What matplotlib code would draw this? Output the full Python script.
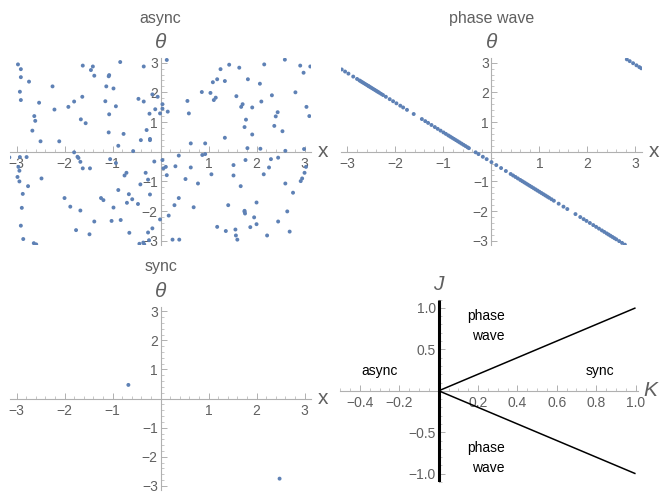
import numpy as np
import matplotlib
matplotlib.use("Agg")
import matplotlib.pyplot as plt
from matplotlib.ticker import FixedLocator, MultipleLocator

plt.rcParams['font.family'] = ['Liberation Sans', 'DejaVu Sans']

PI = np.pi
BLUE = '#5e81b5'
AXCOL = '#b0b0b0'
TXTCOL = '#606060'

# async state: (x, theta)
async_x = [-2.97, -2.91, -2.91, -2.93, -2.91, -2.74, -2.53, -2.63, -2.61, -2.67, -2.50, -2.25, -2.21,
           -2.11, -1.92, -1.80, -1.62, -1.41, -1.45, -1.38, -1.63, -1.66, -1.56, -1.13, -1.07, -1.08,
           -1.15, -1.07, -0.98, -0.93, -1.08, -0.84, -0.77, -0.88, -0.57, -0.46, -0.35, -0.35, -0.23,
           -0.11, -0.06, -0.17, -0.29, -0.41, -0.22, -0.22, 0.13, 0.04, 0.04, -0.01, 0.15,
           0.56, 0.59, 0.63, 0.86, 0.93, 1.04, 1.09, 1.11, 1.15, 1.18, 1.25, 1.34, 1.43, 1.34, 1.58,
           1.64, 1.68, 1.71, 1.75, 1.78, 1.81, 1.82, 1.91, 1.91, 2.07, 2.10, 2.08, 2.16, 2.32, 2.37,
           2.40, 2.44, 2.54, 2.59, 2.60, 2.81, 2.91, 2.98, 3.04, 3.10, 3.12, 2.99,
           -3.15, -2.98, -2.94, -2.87, -2.89, -2.91, -2.86, -2.64, -2.59, -2.76, -2.48, -2.94, -2.96,
           -2.79, -2.93, -2.00, -1.88, -1.67, -1.76, -1.48, -1.38, -1.80, -1.73, -1.71, -1.67, -1.62,
           -1.47, -1.05, -0.93, -1.24, -1.19, -0.98, -1.02, -0.88, -0.83, -0.75, -0.71, -0.70, -0.66,
           -0.59, -0.47, -0.65, -0.44, -0.36, -0.34, -0.24, -0.26, -0.17, -0.42, -0.26, -0.22, -0.31,
           -0.13, -0.01, 0.04, 0.06, 0.11, 0.13, 0.17, 0.25, 0.39, 0.29, 0.38, 0.31, 0.38, 0.52, 0.63,
           0.78, 0.69, 0.87, 0.93, 1.06, 1.18, 1.41, 1.36, 1.52, 1.52, 1.56, 1.57, 1.60, 1.67, 1.77,
           1.75, 1.76, 1.75, 1.95, 2.00, 2.00, 1.87, 2.15, 2.22, 2.26, 2.30, 2.45, 2.45, 2.60, 2.64,
           2.69, 2.76, 2.92, 2.95, 3.00, 3.03]
async_th = [2.94, 2.78, 2.51, 2.02, 1.74, 2.36, 1.65, 1.20, 1.04, 0.71, 0.35, 2.20, 1.42,
            0.35, 1.51, 1.69, 2.90, 2.87, 2.75, 2.56, 1.85, 1.09, 0.96, 2.20, 2.58, 2.54,
            1.70, 1.26, 2.13, 1.53, 0.65, 3.02, 0.60, 0.20, 0.02, 1.78, 2.87, 1.69, 1.28,
            1.43, 1.85, 1.93, 0.73, 0.39, 0.43, 0.39, 3.09, 1.60, 1.45, 1.29, 1.35,
            1.71, 1.29, 0.28, 2.01, 0.28, 1.98, 2.34, 1.74, 1.82, 2.44, 2.78, 2.38, 2.93, 0.47, 1.87,
            2.83, 1.51, 1.60, 0.83, 1.08, 0.12, 2.44, 1.49, 0.58, 2.29, 1.69, 0.10, 2.94, 1.90, 0.87,
            1.19, 1.33, 0.69, 3.10, 0.03, 2.00, 2.90, 2.66, 1.51, 1.20, 2.87, 0.09,
            -0.19, -0.85, -1.00, -1.42, -1.89, -2.49, -2.94, -3.08, -3.12, -1.16, -0.90, -0.64, -0.51,
            -0.18, -0.18, -1.56, -1.85, -1.98, -2.64, -2.78, -2.35, -0.02, -0.17, -0.21, -0.34, -0.56,
            -0.56, -0.25, -0.38, -1.56, -1.63, -1.88, -2.33, -1.29, -2.30, -0.80, -0.71, -1.72, -1.43,
            -1.60, -1.76, -2.73, -3.10, -3.06, -3.12, -2.98, -2.72, -2.58, -1.10, -0.94, -1.44, -0.71,
            -0.33, -2.28, -0.28, -0.56, -0.51, -0.79, -2.15, -2.96, -2.96, -1.80, -1.56, -0.49, -0.13,
            -0.92, -0.53, -1.07, -1.87, -0.11, -0.08, -0.76, -2.53, -1.80, -2.67, -0.45, -0.80, -2.62,
            -2.82, -2.96, -1.16, -0.28, -1.99, -2.08, -2.02, -2.21, -1.71, -2.44, -2.54, -0.76, -2.82,
            -0.53, -0.25, -2.35, -0.20, -1.07, -2.01, -2.69, -1.38, -0.99, -0.90, -0.71, -0.51]

# phase wave state
wave_x = [-3.12, -3.05, -2.98, -2.88, -2.80, -2.75, -2.72, -2.69, -2.66, -2.63, -2.60, -2.57, -2.55,
          -2.52, -2.49, -2.46, -2.43, -2.40, -2.37, -2.34, -2.30, -2.26, -2.20, -2.12, -2.05, -1.98,
          -1.90, -1.84, -1.76, -1.62, -1.45, -1.38, -1.32, -1.25, -1.18, -1.12, -1.06, -1.00, -0.95,
          -0.90, -0.86, -0.82, -0.78, -0.74, -0.70, -0.66, -0.62, -0.58, -0.54, -0.50, -0.47, -0.33,
          -0.27, -0.18, -0.10, 0.00, 0.10, 0.20, 0.30, 0.40, 0.45, 0.50, 0.55, 0.60, 0.64, 0.68,
          0.72, 0.76, 0.80, 0.84, 0.88, 0.92, 0.96, 1.00, 1.04, 1.08, 1.12, 1.16, 1.20, 1.25, 1.30,
          1.40, 1.50, 1.58, 1.75, 1.85, 1.92, 1.98, 2.05, 2.12, 2.18, 2.24, 2.30, 2.35, 2.40, 2.44,
          2.48, 2.52, 2.56, 2.60, 2.66, 2.72, 2.78, 2.82, 2.88, 2.95, 3.02, 3.08, 3.12]
wave_th = [2.77, 2.70, 2.63, 2.53, 2.45, 2.40, 2.37, 2.34, 2.31, 2.28, 2.25, 2.22, 2.20,
           2.17, 2.14, 2.11, 2.08, 2.05, 2.02, 1.99, 1.95, 1.91, 1.85, 1.77, 1.70, 1.63,
           1.55, 1.49, 1.41, 1.27, 1.10, 1.03, 0.97, 0.90, 0.83, 0.77, 0.71, 0.65, 0.60,
           0.55, 0.51, 0.47, 0.43, 0.39, 0.35, 0.31, 0.27, 0.23, 0.19, 0.15, 0.12, -0.02,
           -0.08, -0.17, -0.25, -0.35, -0.45, -0.55, -0.65, -0.75, -0.80, -0.85, -0.90, -0.95, -0.99, -1.03,
           -1.07, -1.11, -1.15, -1.19, -1.23, -1.27, -1.31, -1.35, -1.39, -1.43, -1.47, -1.51, -1.55, -1.60, -1.65,
           -1.75, -1.85, -1.93, -2.10, -2.20, -2.27, -2.33, -2.40, -2.47, -2.53, -2.59, -2.65, -2.70, -2.75, -2.79,
           -2.83, -2.87, -2.91, -2.95, -3.01, -3.07, -3.13, 3.11, 3.05, 2.98, 2.91, 2.85, 2.81]

# sync state
sync_x = [-0.67, 2.48]
sync_th = [0.47, -2.75]

# phase diagram boundaries
bound_K = [[0, 0], [0, 1.0], [0, 1.0]]
bound_J = [[-1.1, 1.1], [0, 1.0], [0, -1.0]]
regions = [("async", -0.30, 0.24), ("sync", 0.82, 0.24),
           ("phase\nwave", 0.24, 0.78), ("phase\nwave", 0.24, -0.81)]

fig = plt.figure(figsize=(6.62, 4.93), dpi=100)


def style_axes(ax, xlim, ylim, xmaj, xmin, ymaj, ymin, xfmt, yfmt):
    ax.set_xlim(*xlim)
    ax.set_ylim(*ylim)
    for s in ['top', 'right']:
        ax.spines[s].set_visible(False)
    for s in ['left', 'bottom']:
        ax.spines[s].set_position(('data', 0))
        ax.spines[s].set_color(AXCOL)
        ax.spines[s].set_linewidth(0.8)
    ax.xaxis.set_major_locator(FixedLocator(xmaj))
    ax.yaxis.set_major_locator(FixedLocator(ymaj))
    ax.xaxis.set_minor_locator(MultipleLocator(xmin))
    ax.yaxis.set_minor_locator(MultipleLocator(ymin))
    ax.set_xticklabels([xfmt.format(v).replace('-', '\u2212') for v in xmaj])
    ax.set_yticklabels([yfmt.format(v).replace('-', '\u2212') for v in ymaj])
    ax.tick_params(which='major', direction='in', length=4, width=0.7, color=AXCOL,
                   labelsize=10, labelcolor=TXTCOL)
    ax.tick_params(which='minor', direction='in', length=2, width=0.5, color=AXCOL)
    ax.tick_params(axis='x', pad=4)
    ax.tick_params(axis='y', pad=2)
    ax.patch.set_visible(False)


def phase_panel(rect, xs, ys, title):
    ax = fig.add_axes(rect)
    ax.scatter(xs, ys, s=8, color=BLUE, edgecolors='none', zorder=3)
    style_axes(ax, (-PI, PI), (-PI, PI), [-3, -2, -1, 1, 2, 3], 0.2,
               [-3, -2, -1, 1, 2, 3], 0.2, '{:d}', '{:d}')
    ax.annotate('θ', xy=(0, PI), xytext=(0, 11.3), textcoords='offset points',
                ha='center', va='center', fontsize=15, style='italic', color=TXTCOL)
    ax.annotate('x', xy=(PI, 0), xytext=(8.5, 0), textcoords='offset points',
                ha='center', va='center', fontsize=15, color=TXTCOL)
    ax.annotate(title, xy=(0, PI), xytext=(0, 29), textcoords='offset points',
                ha='center', va='center', fontsize=11.5, color=TXTCOL)
    return ax


phase_panel([0.0147, 0.503, 0.4556, 0.3785], async_x, async_th, "async")
phase_panel([0.5146, 0.503, 0.4556, 0.3785], wave_x, wave_th, "phase wave")
phase_panel([0.0147, 0.006, 0.4556, 0.371], sync_x, sync_th, "sync")

# phase diagram
ax = fig.add_axes([0.514, 0.0223, 0.449, 0.370])
for k, j in zip(bound_K, bound_J):
    lw = 2.2 if k[0] == k[1] else 1.1
    ax.plot(k, j, color='black', lw=lw, solid_capstyle='butt', zorder=3)
style_axes(ax, (-0.5, 1.01), (-1.1, 1.1), [-0.4, -0.2, 0.2, 0.4, 0.6, 0.8, 1.0], 0.05,
           [-1.0, -0.5, 0.5, 1.0], 0.1, '{:.1f}', '{:.1f}')
for txt, k, j in regions:
    ax.text(k, j, txt, ha='center', va='center', multialignment='right',
            fontsize=10, linespacing=1.55, color='black')
ax.annotate('J', xy=(0, 1.1), xytext=(0, 11), textcoords='offset points',
            ha='center', va='center', fontsize=15, style='italic', color=TXTCOL)
ax.annotate('K', xy=(1.01, 0), xytext=(9, 0), textcoords='offset points',
            ha='center', va='center', fontsize=15, style='italic', color=TXTCOL)

fig.savefig('out.png', dpi=100)
